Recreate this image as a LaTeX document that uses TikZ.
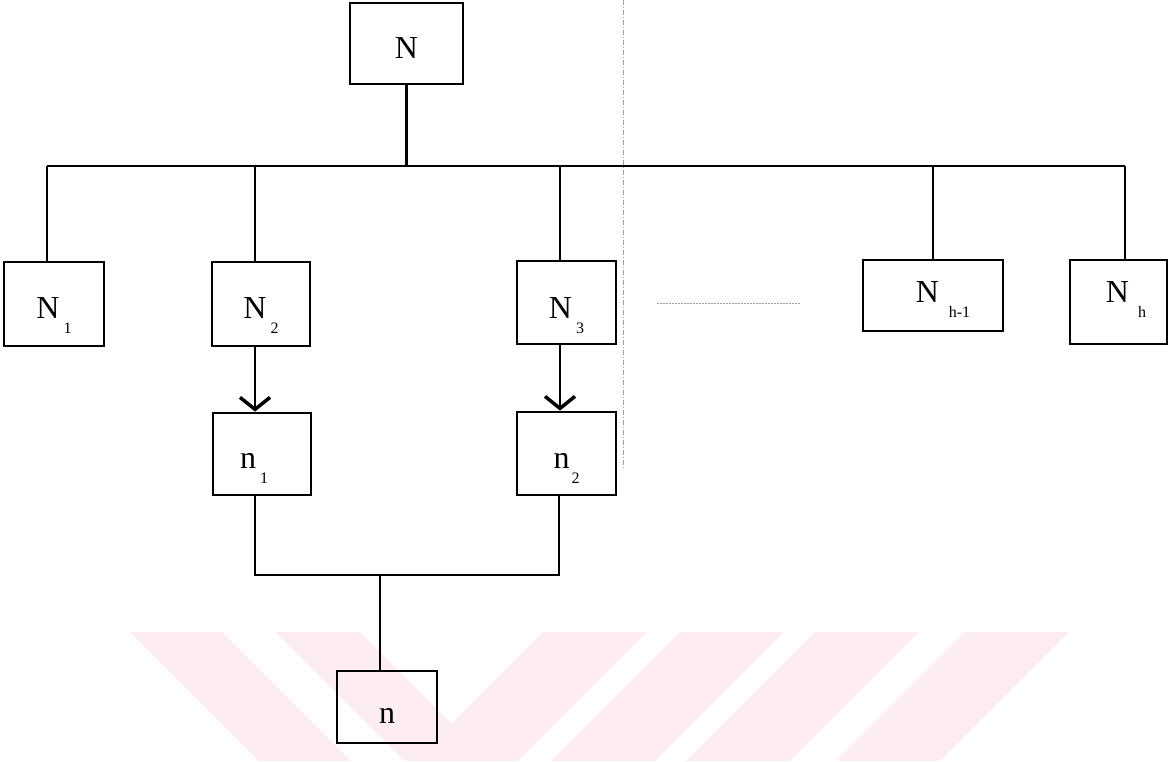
\documentclass[tikz,border=0pt]{standalone}
\usepackage{fontspec}
\setmainfont{Liberation Serif}
\usetikzlibrary{arrows.meta}

\definecolor{wmark}{RGB}{253,236,240}
% index set below the letter, as in the scan
\newcommand{\subidx}[2][4pt]{\hspace{#1}\smash{\raisebox{-15pt}{\fontsize{16}{16}\selectfont #2}}}

\begin{document}
\begin{tikzpicture}[
  x=1pt,y=-1pt,
  box/.style ={draw=black,line width=2.8pt,inner sep=0pt,
               font=\fontsize{32}{38}\selectfont,text height=28pt},
  link/.style={draw=black,line width=2.3pt},
  arr/.style ={link,-{Straight Barb[length=12pt,width=30pt,line width=3.5pt]}},
  guide/.style={draw=gray!75,line width=0.8pt}]
\useasboundingbox (0,0) rectangle (1172,761);
% --- faint watermark band at the bottom ---
\foreach \a/\b in {130/222,276/360}
  \fill[wmark] (\a,632) -- (\b,632) -- (\b+129,761) -- (\a+129,761) -- cycle;
\foreach \a/\b in {543/647,680/784,815/919,965/1069}
  \fill[wmark] (\a,632) -- (\b,632) -- (\b-129,761) -- (\a-129,761) -- cycle;
% --- boxes ---
\node[box,minimum width=113,minimum height=81,text height=29pt] (N) at (406.5,43.5) {N};
\node[box,minimum width=100,minimum height=84] (N1) at (54,304) {N\subidx{1}};
\node[box,minimum width=98,minimum height=84] (N2) at (261,304) {N\subidx{2}};
\node[box,minimum width=99,minimum height=83,text height=31pt] (N3) at (566.5,302.5) {N\subidx{3}};
\node[box,minimum width=140,minimum height=71,text height=13pt] (Nh1) at (933,295.5)
  {\hspace*{20pt}N\subidx[10pt]{h-1}};
\node[box,minimum width=97,minimum height=84,text height=0pt] (Nh) at (1118.5,302)
  {\hspace*{15pt}N\subidx[9pt]{h}};
\node[box,minimum width=98,minimum height=82,text height=28pt] (n1) at (262,454)
  {n\subidx{1}\hspace*{16pt}};
\node[box,minimum width=99,minimum height=83,text height=29pt] (n2) at (566.5,453.5) {n\subidx[2pt]{2}};
\node[box,minimum width=100,minimum height=72,text height=32pt] (n) at (387,707) {n};
% --- upper bus ---
\coordinate (b1) at (47,166);
\coordinate (b2) at (255,166);
\coordinate (b3) at (560,166);
\coordinate (b4) at (933,166);
\coordinate (b5) at (1125,166);
\draw[link] (N.south) -- (N.south |- b1);
\draw[link] (b1) -- (b5);
\foreach \b/\t in {b1/N1,b2/N2,b3/N3,b4/Nh1,b5/Nh}
  \draw[link] (\b) -- (\b |- \t.north);
% --- arrows down to n_1, n_2 ---
\draw[arr] (b2 |- N2.south) -- (b2 |- n1.north);
\draw[arr] (b3 |- N3.south) -- (b3 |- n2.north);
% --- lower bus to n ---
\coordinate (jL) at (255,575);
\coordinate (jR) at (559,575);
\coordinate (jM) at (380,575);
\draw[link] (jL |- n1.south) -- (jL) -- (jR) -- (jR |- n2.south);
\draw[link] (jM) -- (jM |- n.north);
% --- guide lines ---
\coordinate (gtop) at (623,0);
\coordinate (gbot) at (623,470);
\draw[guide,dash pattern=on 5pt off 2pt on 1pt off 2pt] (gtop) -- (gbot);
\coordinate (dotL) at (657,303);
\coordinate (dotR) at (800,303);
\draw[guide,dash pattern=on 1.5pt off 1.5pt] (dotL) -- (dotR);
\end{tikzpicture}
\end{document}
